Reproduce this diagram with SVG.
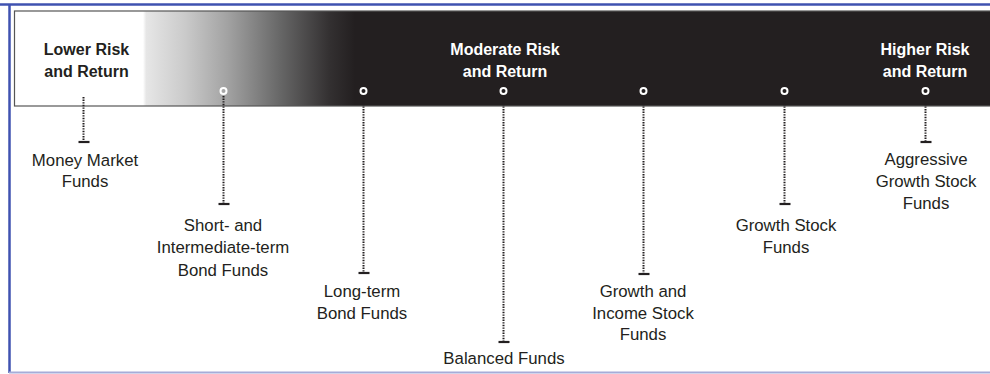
<svg xmlns="http://www.w3.org/2000/svg" width="990" height="374" viewBox="0 0 990 374">
<defs>
<linearGradient id="barGrad" gradientUnits="userSpaceOnUse" x1="143" y1="0" x2="355" y2="0">
<stop offset="0" stop-color="#ffffff"/>
<stop offset="0.015" stop-color="#e6e6e6"/>
<stop offset="0.2" stop-color="#cacaca"/>
<stop offset="0.4" stop-color="#a2a2a2"/>
<stop offset="0.65" stop-color="#666666"/>
<stop offset="0.88" stop-color="#333031"/>
<stop offset="1" stop-color="#231f20"/>
</linearGradient>
</defs>
<style>
.hdr{font-family:"Liberation Sans",Arial,sans-serif;font-weight:bold;font-size:16px;text-anchor:middle}
.lbl{font-family:"Liberation Sans",Arial,sans-serif;font-size:16.8px;fill:#231f20;text-anchor:middle}
.dot{fill:none;stroke:#231f20;stroke-width:2;stroke-dasharray:1.4 1.2}
.tick{stroke:#231f20;stroke-width:2.2}
.pt{fill:none;stroke:#ffffff;stroke-width:2}
</style>
<rect x="0" y="0" width="990" height="374" fill="#ffffff"/>
<g id="frame">
<line x1="0" y1="4.5" x2="990" y2="4.5" stroke="#3f52b0" stroke-width="2.5"/>
<line x1="9.5" y1="4" x2="9.5" y2="373" stroke="#3f52b0" stroke-width="2.5"/>
<line x1="9" y1="372.5" x2="990" y2="372.5" stroke="#a6acd8" stroke-width="2"/>
</g>
<g id="bar">
<rect x="14.5" y="11" width="980" height="95" fill="url(#barGrad)" stroke="#555555" stroke-width="1.2"/>
<text class="hdr" x="86.5" y="55" fill="#231f20">Lower Risk</text>
<text class="hdr" x="86.5" y="77" fill="#231f20">and Return</text>
<text class="hdr" x="505" y="55" fill="#ffffff">Moderate Risk</text>
<text class="hdr" x="505" y="77" fill="#ffffff">and Return</text>
<text class="hdr" x="925" y="55" fill="#ffffff">Higher Risk</text>
<text class="hdr" x="925" y="77" fill="#ffffff">and Return</text>
</g>
<g id="connectors">
<line class="dot" x1="83.5" y1="97" x2="83.5" y2="141"/>
<line class="dot" x1="223.5" y1="96" x2="223.5" y2="203"/>
<line class="dot" x1="363.5" y1="96" x2="363.5" y2="272"/>
<line class="dot" x1="503.5" y1="96" x2="503.5" y2="341"/>
<line class="dot" x1="643.5" y1="96" x2="643.5" y2="273"/>
<line class="dot" x1="784.5" y1="96" x2="784.5" y2="203"/>
<line class="dot" x1="925.5" y1="96" x2="925.5" y2="141"/>
</g>
<g id="money-market">
<line class="tick" x1="78.5" y1="142" x2="89.5" y2="142"/>
<text class="lbl" x="85" y="165.5">Money Market</text>
<text class="lbl" x="85" y="187">Funds</text>
</g>
<g id="short-intermediate">
<circle class="pt" cx="223.5" cy="91" r="3"/>
<line class="tick" x1="218.5" y1="204" x2="229.5" y2="204"/>
<text class="lbl" x="223" y="231">Short- and</text>
<text class="lbl" x="223" y="253">Intermediate-term</text>
<text class="lbl" x="223" y="275.5">Bond Funds</text>
</g>
<g id="long-term">
<circle class="pt" cx="363.5" cy="91" r="3"/>
<line class="tick" x1="358.5" y1="273" x2="369.5" y2="273"/>
<text class="lbl" x="362" y="297">Long-term</text>
<text class="lbl" x="362" y="318.5">Bond Funds</text>
</g>
<g id="balanced">
<circle class="pt" cx="503.5" cy="91" r="3"/>
<line class="tick" x1="498.5" y1="342" x2="509.5" y2="342"/>
<text class="lbl" x="504" y="363.5">Balanced Funds</text>
</g>
<g id="growth-income">
<circle class="pt" cx="643.5" cy="91" r="3"/>
<line class="tick" x1="638.5" y1="274" x2="649.5" y2="274"/>
<text class="lbl" x="643" y="297">Growth and</text>
<text class="lbl" x="643" y="318.5">Income Stock</text>
<text class="lbl" x="643" y="340">Funds</text>
</g>
<g id="growth-stock">
<circle class="pt" cx="784.5" cy="91" r="3"/>
<line class="tick" x1="779.5" y1="204" x2="790.5" y2="204"/>
<text class="lbl" x="786" y="231">Growth Stock</text>
<text class="lbl" x="786" y="253">Funds</text>
</g>
<g id="aggressive-growth">
<circle class="pt" cx="925.5" cy="91" r="3"/>
<line class="tick" x1="920.5" y1="142" x2="931.5" y2="142"/>
<text class="lbl" x="926" y="165">Aggressive</text>
<text class="lbl" x="926" y="187">Growth Stock</text>
<text class="lbl" x="926" y="208.5">Funds</text>
</g>
</svg>
